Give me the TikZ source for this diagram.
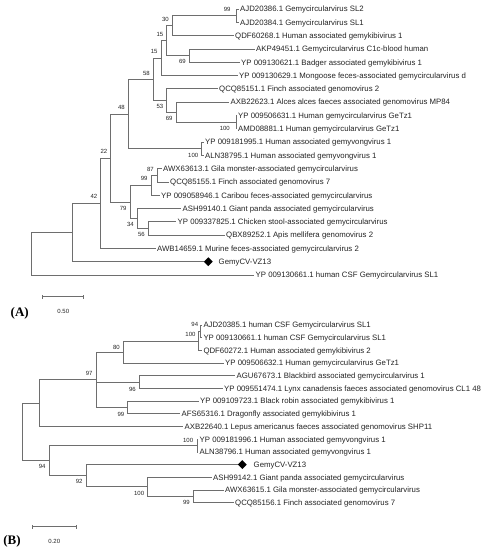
\documentclass[tikz,border=0pt]{standalone}
\usepackage{fontspec}
\setmainfont{Liberation Sans}
\newfontfamily\serifbold{Liberation Serif}[BoldFont={Liberation Serif Bold}]
\usetikzlibrary{shapes.geometric}
\definecolor{linec}{RGB}{110,110,110}
\definecolor{txtc}{RGB}{35,35,35}
\begin{document}
\begin{tikzpicture}[x=1pt,y=-1pt,
  br/.style={draw=linec,line width=0.7pt},
  leaf/.style={anchor=west,inner xsep=1.5pt,inner ysep=0pt,font=\fontsize{7.8}{9}\selectfont,text=txtc,text height=5.7pt,text depth=0pt},
  bsv/.style={anchor=east,inner sep=0pt,font=\fontsize{6}{7}\selectfont,text=txtc},
  gemymark/.style={diamond,fill=black,inner sep=0pt,minimum size=9pt},
  panel/.style={inner sep=0pt,font=\serifbold\bfseries\fontsize{13}{15}\selectfont,text=black},
  sclab/.style={inner sep=0pt,font=\fontsize{6}{7}\selectfont,text=txtc}]
\useasboundingbox (0,0) rectangle (486,550);

% ---------------- Panel A ----------------
\node[leaf] (a1) at (238.5,9) {AJD20386.1 Gemycircularvirus SL2};
\node[leaf] (a2) at (238.5,22.3) {AJD20384.1 Gemycircularvirus SL1};
\node[leaf] (a3) at (233.5,35.6) {QDF60268.1 Human associated gemykibivirus 1};
\node[leaf] (a4) at (254.5,48.9) {AKP49451.1 Gemycircularvirus C1c-blood human};
\node[leaf] (a5) at (239.5,62.2) {YP 009130621.1 Badger associated gemykibivirus 1};
\node[leaf] (a6) at (237.5,75.5) {YP 009130629.1 Mongoose feces-associated gemycircularvirus d};
\node[leaf] (a7) at (217.5,88.8) {QCQ85151.1 Finch associated genomovirus 2};
\node[leaf] (a8) at (229,102.1) {AXB22623.1 Alces alces faeces associated genomovirus MP84};
\node[leaf] (a9) at (236.5,115.4) {YP 009506631.1 Human gemycircularvirus GeTz1};
\node[leaf] (a10) at (236.5,128.7) {AMD08881.1 Human gemycircularvirus GeTz1};
\node[leaf] (a11) at (203.5,142) {YP 009181995.1 Human associated gemyvongvirus 1};
\node[leaf] (a12) at (203.5,155.3) {ALN38795.1 Human associated gemyvongvirus 1};
\node[leaf] (a13) at (161.5,168.6) {AWX63613.1 Gila monster-associated gemycircularvirus};
\node[leaf] (a14) at (168.5,181.9) {QCQ85155.1 Finch associated genomovirus 7};
\node[leaf] (a15) at (159.5,195.2) {YP 009058946.1 Caribou feces-associated gemycircularvirus};
\node[leaf] (a16) at (181,208.5) {ASH99140.1 Giant panda associated gemycircularvirus};
\node[leaf] (a17) at (176,221.8) {YP 009337825.1 Chicken stool-associated gemycircularvirus};
\node[leaf] (a18) at (224.5,235.1) {QBX89252.1 Apis mellifera genomovirus 2};
\node[leaf] (a19) at (155.5,248.4) {AWB14659.1 Murine feces-associated gemycircularvirus 2};
\node[gemymark] (a20d) at (208.3,261.7) {};
\node[leaf] (a20) at (217,261.7) {GemyCV-VZ13};
\node[leaf] (a21) at (254,275) {YP 009130661.1 human CSF Gemycircularvirus SL1};

\coordinate (nA99) at (236.7,15.65);
\coordinate (nA30) at (172.3,25.6);
\coordinate (nA69a) at (189.3,55.55);
\coordinate (nA15a) at (166.7,40.6);
\coordinate (nA15b) at (161,58.05);
\coordinate (nA100q) at (236,122.05);
\coordinate (nA69b) at (176,112.1);
\coordinate (nA53) at (166.7,100.45);
\coordinate (nA58) at (153.3,79.25);
\coordinate (nA100p) at (201.7,148.65);
\coordinate (nA48) at (128.3,113.95);
\coordinate (nA87) at (157.3,175.25);
\coordinate (nA99b) at (151,185.2);
\coordinate (nA56) at (148.3,228.45);
\coordinate (nA34) at (137.3,218.5);
\coordinate (nA79) at (130,201.85);
\coordinate (nA22) at (110.7,157.9);
\coordinate (nA42) at (100.7,203.15);
\coordinate (nAg) at (72.7,232.4);
\coordinate (nAroot) at (31.7,253.7);

\draw[br] (nA99) |- (a1.west) (nA99) |- (a2.west);
\draw[br] (nA30) |- (nA99) (nA30) |- (a3.west);
\draw[br] (nA69a) |- (a4.west) (nA69a) |- (a5.west);
\draw[br] (nA15a) |- (nA30) (nA15a) |- (nA69a);
\draw[br] (nA15b) |- (nA15a) (nA15b) |- (a6.west);
\draw[br] (nA100q) |- (a9.west) (nA100q) |- (a10.west);
\draw[br] (nA69b) |- (a8.west) (nA69b) |- (nA100q);
\draw[br] (nA53) |- (a7.west) (nA53) |- (nA69b);
\draw[br] (nA58) |- (nA15b) (nA58) |- (nA53);
\draw[br] (nA100p) |- (a11.west) (nA100p) |- (a12.west);
\draw[br] (nA48) |- (nA58) (nA48) |- (nA100p);
\draw[br] (nA87) |- (a13.west) (nA87) |- (a14.west);
\draw[br] (nA99b) |- (nA87) (nA99b) |- (a15.west);
\draw[br] (nA56) |- (a17.west) (nA56) |- (a18.west);
\draw[br] (nA34) |- (a16.west) (nA34) |- (nA56);
\draw[br] (nA79) |- (nA99b) (nA79) |- (nA34);
\draw[br] (nA22) |- (nA48) (nA22) |- (nA79);
\draw[br] (nA42) |- (nA22) (nA42) |- (a19.west);
\draw[br] (nAg) |- (nA42) (nAg) |- (a20d.west);
\draw[br] (nAroot) |- (nAg) (nAroot) |- (a21.west);

\node[bsv] (lA99) at ([shift={(-6,-6.3)}]nA99) {99};
\node[bsv] (lA30) at ([shift={(-3.3,-6.3)}]nA30) {30};
\node[bsv] (lA69a) at ([shift={(-3.3,6.3)}]nA69a) {69};
\node[bsv] (lA15a) at ([shift={(-3.3,-6.3)}]nA15a) {15};
\node[bsv] (lA15b) at ([shift={(-3.3,-6.3)}]nA15b) {15};
\node[bsv] (lA100q) at ([shift={(-6,6.3)}]nA100q) {100};
\node[bsv] (lA69b) at ([shift={(-3.3,6.3)}]nA69b) {69};
\node[bsv] (lA53) at ([shift={(-3.3,6.3)}]nA53) {53};
\node[bsv] (lA58) at ([shift={(-3.3,-6.3)}]nA58) {58};
\node[bsv] (lA100p) at ([shift={(-3.3,6.3)}]nA100p) {100};
\node[bsv] (lA48) at ([shift={(-3.3,-6.3)}]nA48) {48};
\node[bsv] (lA87) at ([shift={(-3.3,-6.3)}]nA87) {87};
\node[bsv] (lA99b) at ([shift={(-3.3,-6.3)}]nA99b) {99};
\node[bsv] (lA56) at ([shift={(-3.3,6.3)}]nA56) {56};
\node[bsv] (lA34) at ([shift={(-3.3,6.3)}]nA34) {34};
\node[bsv] (lA79) at ([shift={(-3.3,6.3)}]nA79) {79};
\node[bsv] (lA22) at ([shift={(-3.3,-6.3)}]nA22) {22};
\node[bsv] (lA42) at ([shift={(-3.3,-6.3)}]nA42) {42};

% scale bar A
\coordinate (sA1) at (42.3,296.7);
\coordinate (sA2) at (83.3,296.7);
\draw[br] (sA1) -- (sA2);
\draw[br] ([yshift=-2pt]sA1) -- ([yshift=2pt]sA1);
\draw[br] ([yshift=-2pt]sA2) -- ([yshift=2pt]sA2);
\node[sclab] (sAl) at (63.3,311.7) {0.50};
\node[panel] (pA) at (19.7,313.5) {(A)};

% ---------------- Panel B ----------------
\node[leaf] (b1) at (201.8,325) {AJD20385.1 human CSF Gemycircularvirus SL1};
\node[leaf] (b2) at (201.8,337.7) {YP 009130661.1 human CSF Gemycircularvirus SL1};
\node[leaf] (b3) at (201.8,350.4) {QDF60272.1 Human associated gemykibivirus 2};
\node[leaf] (b4) at (223.5,363.1) {YP 009506632.1 Human gemycircularvirus GeTz1};
\node[leaf] (b5) at (235,375.8) {AGU67673.1 Blackbird associated gemycircularvirus 1};
\node[leaf] (b6) at (222.5,388.5) {YP 009551474.1 Lynx canadensis faeces associated genomovirus CL1 48};
\node[leaf] (b7) at (198.5,401.1) {YP 009109723.1 Black robin associated gemykibivirus 1};
\node[leaf] (b8) at (180,413.8) {AFS65316.1 Dragonfly associated gemykibivirus 1};
\node[leaf] (b9) at (183,426.5) {AXB22640.1 Lepus americanus faeces associated genomovirus SHP11};
\node[leaf] (b10) at (198,439.2) {YP 009181996.1 Human associated gemyvongvirus 1};
\node[leaf] (b11) at (198,451.9) {ALN38796.1 Human associated gemyvongvirus 1};
\node[gemymark] (b12d) at (242.3,464.6) {};
\node[leaf] (b12) at (252,464.6) {GemyCV-VZ13};
\node[leaf] (b13) at (211.5,477.3) {ASH99142.1 Giant panda associated gemycircularvirus};
\node[leaf] (b14) at (223.5,490) {AWX63615.1 Gila monster-associated gemycircularvirus};
\node[leaf] (b15) at (233.5,502.7) {QCQ85156.1 Finch associated genomovirus 7};

\coordinate (nB94a) at (200,331.35);
\coordinate (nB100a) at (198.3,340.9);
\coordinate (nB80) at (123.3,352);
\coordinate (nB96) at (139.3,382.15);
\coordinate (nB99a) at (127.7,407.45);
\coordinate (nB97) at (96,379.7);
\coordinate (nBx) at (39,403.1);
\coordinate (nB100b) at (197.3,445.55);
\coordinate (nB99c) at (193.3,496.35);
\coordinate (nB100c) at (147.7,486.8);
\coordinate (nB92) at (86,475.7);
\coordinate (nB94b) at (49,460.6);
\coordinate (nBroot) at (22.3,431.85);

\draw[br] (nB94a) |- (b1.west) (nB94a) |- (b2.west);
\draw[br] (nB100a) |- (nB94a) (nB100a) |- (b3.west);
\draw[br] (nB80) |- (nB100a) (nB80) |- (b4.west);
\draw[br] (nB96) |- (b5.west) (nB96) |- (b6.west);
\draw[br] (nB99a) |- (b7.west) (nB99a) |- (b8.west);
\draw[br] (nB97) |- (nB80) (nB97) |- (nB96) (nB97) |- (nB99a);
\draw[br] (nBx) |- (nB97) (nBx) |- (b9.west);
\draw[br] (nB100b) |- (b10.west) (nB100b) |- (b11.west);
\draw[br] (nB99c) |- (b14.west) (nB99c) |- (b15.west);
\draw[br] (nB100c) |- (b13.west) (nB100c) |- (nB99c);
\draw[br] (nB92) |- (b12d.west) (nB92) |- (nB100c);
\draw[br] (nB94b) |- (nB100b) (nB94b) |- (nB92);
\draw[br] (nBroot) |- (nBx) (nBroot) |- (nB94b);

\node[bsv] (lB94a) at ([shift={(-1.7,-7)}]nB94a) {94};
\node[bsv] (lB100a) at ([shift={(-2.6,-6)}]nB100a) {100};
\node[bsv] (lB80) at ([shift={(-3.3,-4.7)}]nB80) {80};
\node[bsv] (lB97) at ([shift={(-3.3,-6.4)}]nB97) {97};
\node[bsv] (lB96) at ([shift={(-3.3,7)}]nB96) {96};
\node[bsv] (lB99a) at ([shift={(-3.3,6.5)}]nB99a) {99};
\node[bsv] (lB100b) at ([shift={(-4,-5.5)}]nB100b) {100};
\node[bsv] (lB99c) at ([shift={(-3.3,6.3)}]nB99c) {99};
\node[bsv] (lB100c) at ([shift={(-3.4,6.5)}]nB100c) {100};
\node[bsv] (lB92) at ([shift={(-3.3,6)}]nB92) {92};
\node[bsv] (lB94b) at ([shift={(-3.3,6)}]nB94b) {94};

% scale bar B
\coordinate (sB1) at (32.7,526.7);
\coordinate (sB2) at (76.7,526.7);
\draw[br] (sB1) -- (sB2);
\draw[br] ([yshift=-2pt]sB1) -- ([yshift=2pt]sB1);
\draw[br] ([yshift=-2pt]sB2) -- ([yshift=2pt]sB2);
\node[sclab] (sBl) at (54.3,541) {0.20};
\node[panel] (pB) at (12,541) {(B)};
\end{tikzpicture}
\end{document}
